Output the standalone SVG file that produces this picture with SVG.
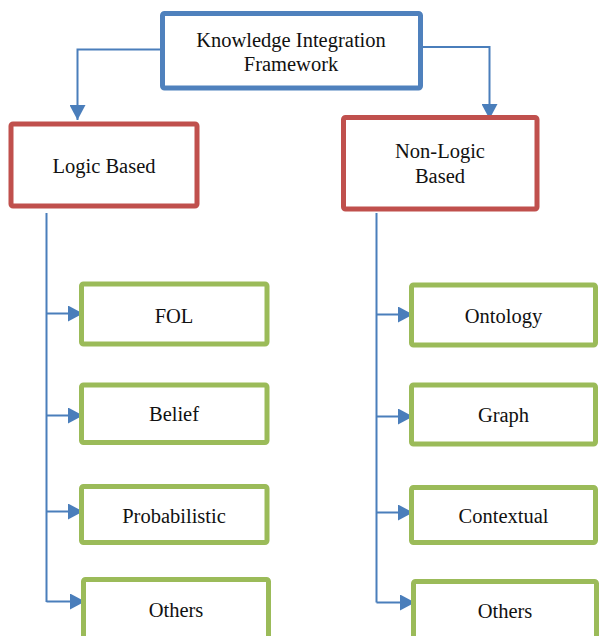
<svg xmlns="http://www.w3.org/2000/svg" width="599" height="636" viewBox="0 0 599 636">
<defs>
<marker id="ah" markerUnits="userSpaceOnUse" markerWidth="16" markerHeight="16" refX="15" refY="8" orient="auto">
<path d="M0,0 L15,8 L0,16 z" fill="#4A7EBB"/>
</marker>
<style>
.box{fill:#fff;stroke-width:5}
.blue{stroke:#4F81BD}
.red{stroke:#C0504D}
.green{stroke:#9BBB59}
.t{font-size:20.5px;fill:#111;text-anchor:middle}
.c{fill:none;stroke:#4A7EBB;stroke-width:2}
</style>
</defs>
<rect width="599" height="636" fill="#fff"/>
<g id="connectors">
<path class="c" d="M160,49.5 H77.5 V120" marker-end="url(#ah)"/>
<path class="c" d="M423,47 H489.5 V119" marker-end="url(#ah)"/>
<path class="c" d="M46.5,213 V602"/>
<path class="c" d="M46.5,313.5 H83" marker-end="url(#ah)"/>
<path class="c" d="M46.5,415.5 H83" marker-end="url(#ah)"/>
<path class="c" d="M46.5,511.5 H83" marker-end="url(#ah)"/>
<path class="c" d="M46.5,601.5 H85" marker-end="url(#ah)"/>
<path class="c" d="M376.5,213 V602.5"/>
<path class="c" d="M376.5,314.5 H413" marker-end="url(#ah)"/>
<path class="c" d="M376.5,416.5 H413" marker-end="url(#ah)"/>
<path class="c" d="M376.5,512.5 H413" marker-end="url(#ah)"/>
<path class="c" d="M376.5,602.5 H415" marker-end="url(#ah)"/>
</g>
<g font-family="Liberation Serif, Times New Roman, serif">
<g id="kif">
<rect class="box blue" x="162.5" y="13.5" width="258" height="74.5" rx="2"/>
<text class="t" x="291" y="46.5">Knowledge Integration</text>
<text class="t" x="291" y="71">Framework</text>
</g>
<g id="logic">
<rect class="box red" x="11" y="124" width="186" height="82" rx="2"/>
<text class="t" x="104" y="172.5">Logic Based</text>
</g>
<g id="nonlogic">
<rect class="box red" x="343.5" y="117.5" width="193.5" height="91.5" rx="2"/>
<text class="t" x="440" y="158">Non-Logic</text>
<text class="t" x="440" y="182.5">Based</text>
</g>
<g id="fol">
<rect class="box green" x="81.5" y="284" width="185.5" height="60" rx="2"/>
<text class="t" x="174" y="322.5">FOL</text>
</g>
<g id="belief">
<rect class="box green" x="81.5" y="385" width="185.5" height="57.5" rx="2"/>
<text class="t" x="174" y="421">Belief</text>
</g>
<g id="probabilistic">
<rect class="box green" x="81.5" y="486.5" width="185.5" height="56" rx="2"/>
<text class="t" x="174" y="522.5">Probabilistic</text>
</g>
<g id="others-left">
<rect class="box green" x="83.5" y="579.5" width="185" height="70" rx="2"/>
<text class="t" x="176" y="617">Others</text>
</g>
<g id="ontology">
<rect class="box green" x="411.5" y="285" width="184" height="60" rx="2"/>
<text class="t" x="503.5" y="323">Ontology</text>
</g>
<g id="graph">
<rect class="box green" x="411.5" y="385" width="184" height="59" rx="2"/>
<text class="t" x="503.5" y="421.5">Graph</text>
</g>
<g id="contextual">
<rect class="box green" x="411.5" y="487.5" width="184" height="55" rx="2"/>
<text class="t" x="503.5" y="522.5">Contextual</text>
</g>
<g id="others-right">
<rect class="box green" x="413.5" y="581.5" width="183" height="70" rx="2"/>
<text class="t" x="505" y="617.5">Others</text>
</g>
</g>
</svg>
